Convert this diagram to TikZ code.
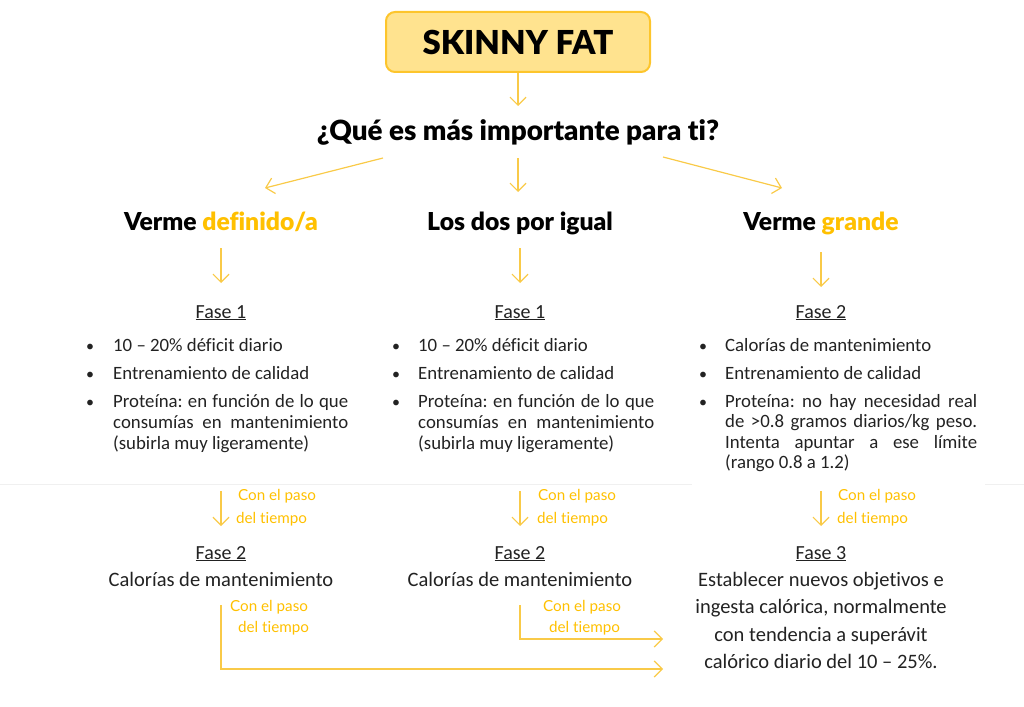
\documentclass[tikz,border=0pt]{standalone}
\usepackage{fontspec}
\setmainfont{Carlito}[Ligatures={NoCommon}]
\newfontfamily\headfont{Lato Black}[Ligatures={NoCommon}]
\newfontfamily\labfont{Lato}[Ligatures={NoCommon}]
\usetikzlibrary{arrows.meta}
\definecolor{arrowcol}{HTML}{F9CA48}
\definecolor{hicol}{HTML}{FFC000}
\definecolor{boxfill}{HTML}{FFE38F}
\definecolor{boxdraw}{HTML}{FDC52C}
\definecolor{bodycol}{HTML}{222222}
\definecolor{sepcol}{HTML}{F0F0F0}
\tikzset{
  flow/.style={draw=arrowcol, line width=1.2pt, -{Straight Barb[length=8pt,width=16pt,line width=1.2pt]}},
  titlebox/.style={draw=boxdraw, line width=2pt, fill=boxfill, rounded corners=9pt, minimum width=264pt, minimum height=60pt, inner sep=0pt, font=\headfont\fontsize{33}{38}\selectfont},
  question/.style={font=\headfont\fontsize{27.8}{32}\selectfont, anchor=base, inner sep=0pt},
  choice/.style={font=\headfont\fontsize{24.7}{28}\selectfont, anchor=base, inner sep=0pt},
  fase/.style={font=\fontsize{20}{23}\selectfont, text=bodycol, anchor=base, inner sep=0pt},
  body/.style={font=\fontsize{18.8}{22}\selectfont, text=bodycol, anchor=base west, inner sep=0pt},
  bul/.style={font=\fontsize{16}{20}\selectfont, text=bodycol, anchor=base, inner sep=0pt},
  lower/.style={font=\fontsize{20.5}{24}\selectfont, text=bodycol, anchor=base, inner sep=0pt},
  lab/.style={font=\labfont\fontsize{15.2}{18}\selectfont, text=hicol, anchor=base west, inner sep=0pt},
}
\newcommand{\jline}[2]{\makebox[#1][s]{#2}}
\frenchspacing
\begin{document}
\begin{tikzpicture}[x=1pt,y=-1pt]
\useasboundingbox (0,0) rectangle (1024,706);
% faint separators
\draw[sepcol, line width=1pt] (0,484) -- (692,484);
\draw[sepcol, line width=1pt] (985,484) -- (1024,484);

\node[titlebox] (title) at (518,42) {SKINNY FAT};
\node[question] (q) at (518,140) {¿Qué es más importante para ti?};
\coordinate (qL) at (383,158);
\coordinate (qM) at (518,158);
\coordinate (qR) at (663,157);
\coordinate (qtop) at (518,106);
\draw[flow] (title.south) -- (qtop);

\node[choice] (c1) at (221,230) {Verme \textcolor{hicol}{definido/a}};
\node[choice] (c2) at (520,230) {Los dos por igual};
\node[choice] (c3) at (821,230) {Verme \textcolor{hicol}{grande}};
\coordinate (c1t) at (265,188);
\coordinate (c2t) at (518,192);
\coordinate (c3t) at (782,188);
\draw[flow] (qL) -- (c1t);
\draw[flow] (qM) -- (c2t);
\draw[flow] (qR) -- (c3t);

% arrows to phase
\coordinate (a1s) at (221,248); \coordinate (a1e) at (221,283);
\coordinate (a2s) at (520,248); \coordinate (a2e) at (520,283);
\coordinate (a3s) at (821,252); \coordinate (a3e) at (821,287);
\draw[flow] (a1s) -- (a1e);
\draw[flow] (a2s) -- (a2e);
\draw[flow] (a3s) -- (a3e);

\node[fase] (f1) at (221,318) {\underline{Fase 1}};
\node[fase] (f2) at (520,318) {\underline{Fase 1}};
\node[fase] (f3) at (821,318) {\underline{Fase 2}};

% column 1
\node[bul] (b11) at (90,351) {•};
\node[bul] (b12) at (90,379) {•};
\node[bul] (b13) at (90,407) {•};
\node[body] (t11) at (113,351) {10 – 20\% déficit diario};
\node[body] (t12) at (113,379) {Entrenamiento de calidad};
\node[body] (t13) at (113,407) {\jline{235pt}{Proteína: en función de lo que}};
\node[body] (t14) at (113,428) {\jline{235pt}{consumías en mantenimiento}};
\node[body] (t15) at (113,449) {(subirla muy ligeramente)};

% column 2
\node[bul] (b21) at (396,351) {•};
\node[bul] (b22) at (396,379) {•};
\node[bul] (b23) at (396,407) {•};
\node[body] (t21) at (418,351) {10 – 20\% déficit diario};
\node[body] (t22) at (418,379) {Entrenamiento de calidad};
\node[body] (t23) at (418,407) {\jline{236pt}{Proteína: en función de lo que}};
\node[body] (t24) at (418,428) {\jline{236pt}{consumías en mantenimiento}};
\node[body] (t25) at (418,449) {(subirla muy ligeramente)};

% column 3
\node[bul] (b31) at (703,351) {•};
\node[bul] (b32) at (703,379) {•};
\node[bul] (b33) at (703,407) {•};
\node[body] (t31) at (725,351) {Calorías de mantenimiento};
\node[body] (t32) at (725,379) {Entrenamiento de calidad};
\node[body] (t33) at (725,407) {\jline{252pt}{Proteína: no hay necesidad real}};
\node[body] (t34) at (725,427.5) {\jline{252pt}{de >0.8 gramos diarios/kg peso.}};
\node[body] (t35) at (725,448) {\jline{252pt}{Intenta apuntar a ese límite}};
\node[body] (t36) at (725,468.5) {(rango 0.8 a 1.2)};

% time arrows
\coordinate (d1s) at (221,491); \coordinate (d1e) at (221,526);
\coordinate (d2s) at (520,491); \coordinate (d2e) at (520,526);
\coordinate (d3s) at (821,491); \coordinate (d3e) at (821,526);
\draw[flow] (d1s) -- (d1e);
\draw[flow] (d2s) -- (d2e);
\draw[flow] (d3s) -- (d3e);
\node[lab] (l1a) at (238,500) {Con el paso};
\node[lab] (l1b) at (236,523) {del tiempo};
\node[lab] (l2a) at (538,500) {Con el paso};
\node[lab] (l2b) at (537,523) {del tiempo};
\node[lab] (l3a) at (838,500) {Con el paso};
\node[lab] (l3b) at (837,523) {del tiempo};

% lower phases
\node[fase] (g1) at (221,559) {\underline{Fase 2}};
\node[lower] (h1) at (221,586) {Calorías de mantenimiento};
\node[fase] (g2) at (520,559) {\underline{Fase 2}};
\node[lower] (h2) at (520,586) {Calorías de mantenimiento};
\node[fase] (g3) at (821,559) {\underline{Fase 3}};
\node[lower] (k1) at (821,586) {Establecer nuevos objetivos e};
\node[lower] (k2) at (821,613) {ingesta calórica, normalmente};
\node[lower] (k3) at (821,641) {con tendencia a superávit};
\node[lower] (k4) at (821,668) {calórico diario del 10 – 25\%.};

\node[lab] (m1a) at (230,611) {Con el paso};
\node[lab] (m1b) at (238,632) {del tiempo};
\node[lab] (m2a) at (543,611) {Con el paso};
\node[lab] (m2b) at (549,632) {del tiempo};

\coordinate (e1s) at (221,605); \coordinate (e1c) at (221,669); \coordinate (e1e) at (663,669);
\coordinate (e2s) at (520,605); \coordinate (e2c) at (520,639); \coordinate (e2e) at (663,639);
\draw[flow] (e1s) -- (e1c) -- (e1e);
\draw[flow] (e2s) -- (e2c) -- (e2e);
\end{tikzpicture}
\end{document}
